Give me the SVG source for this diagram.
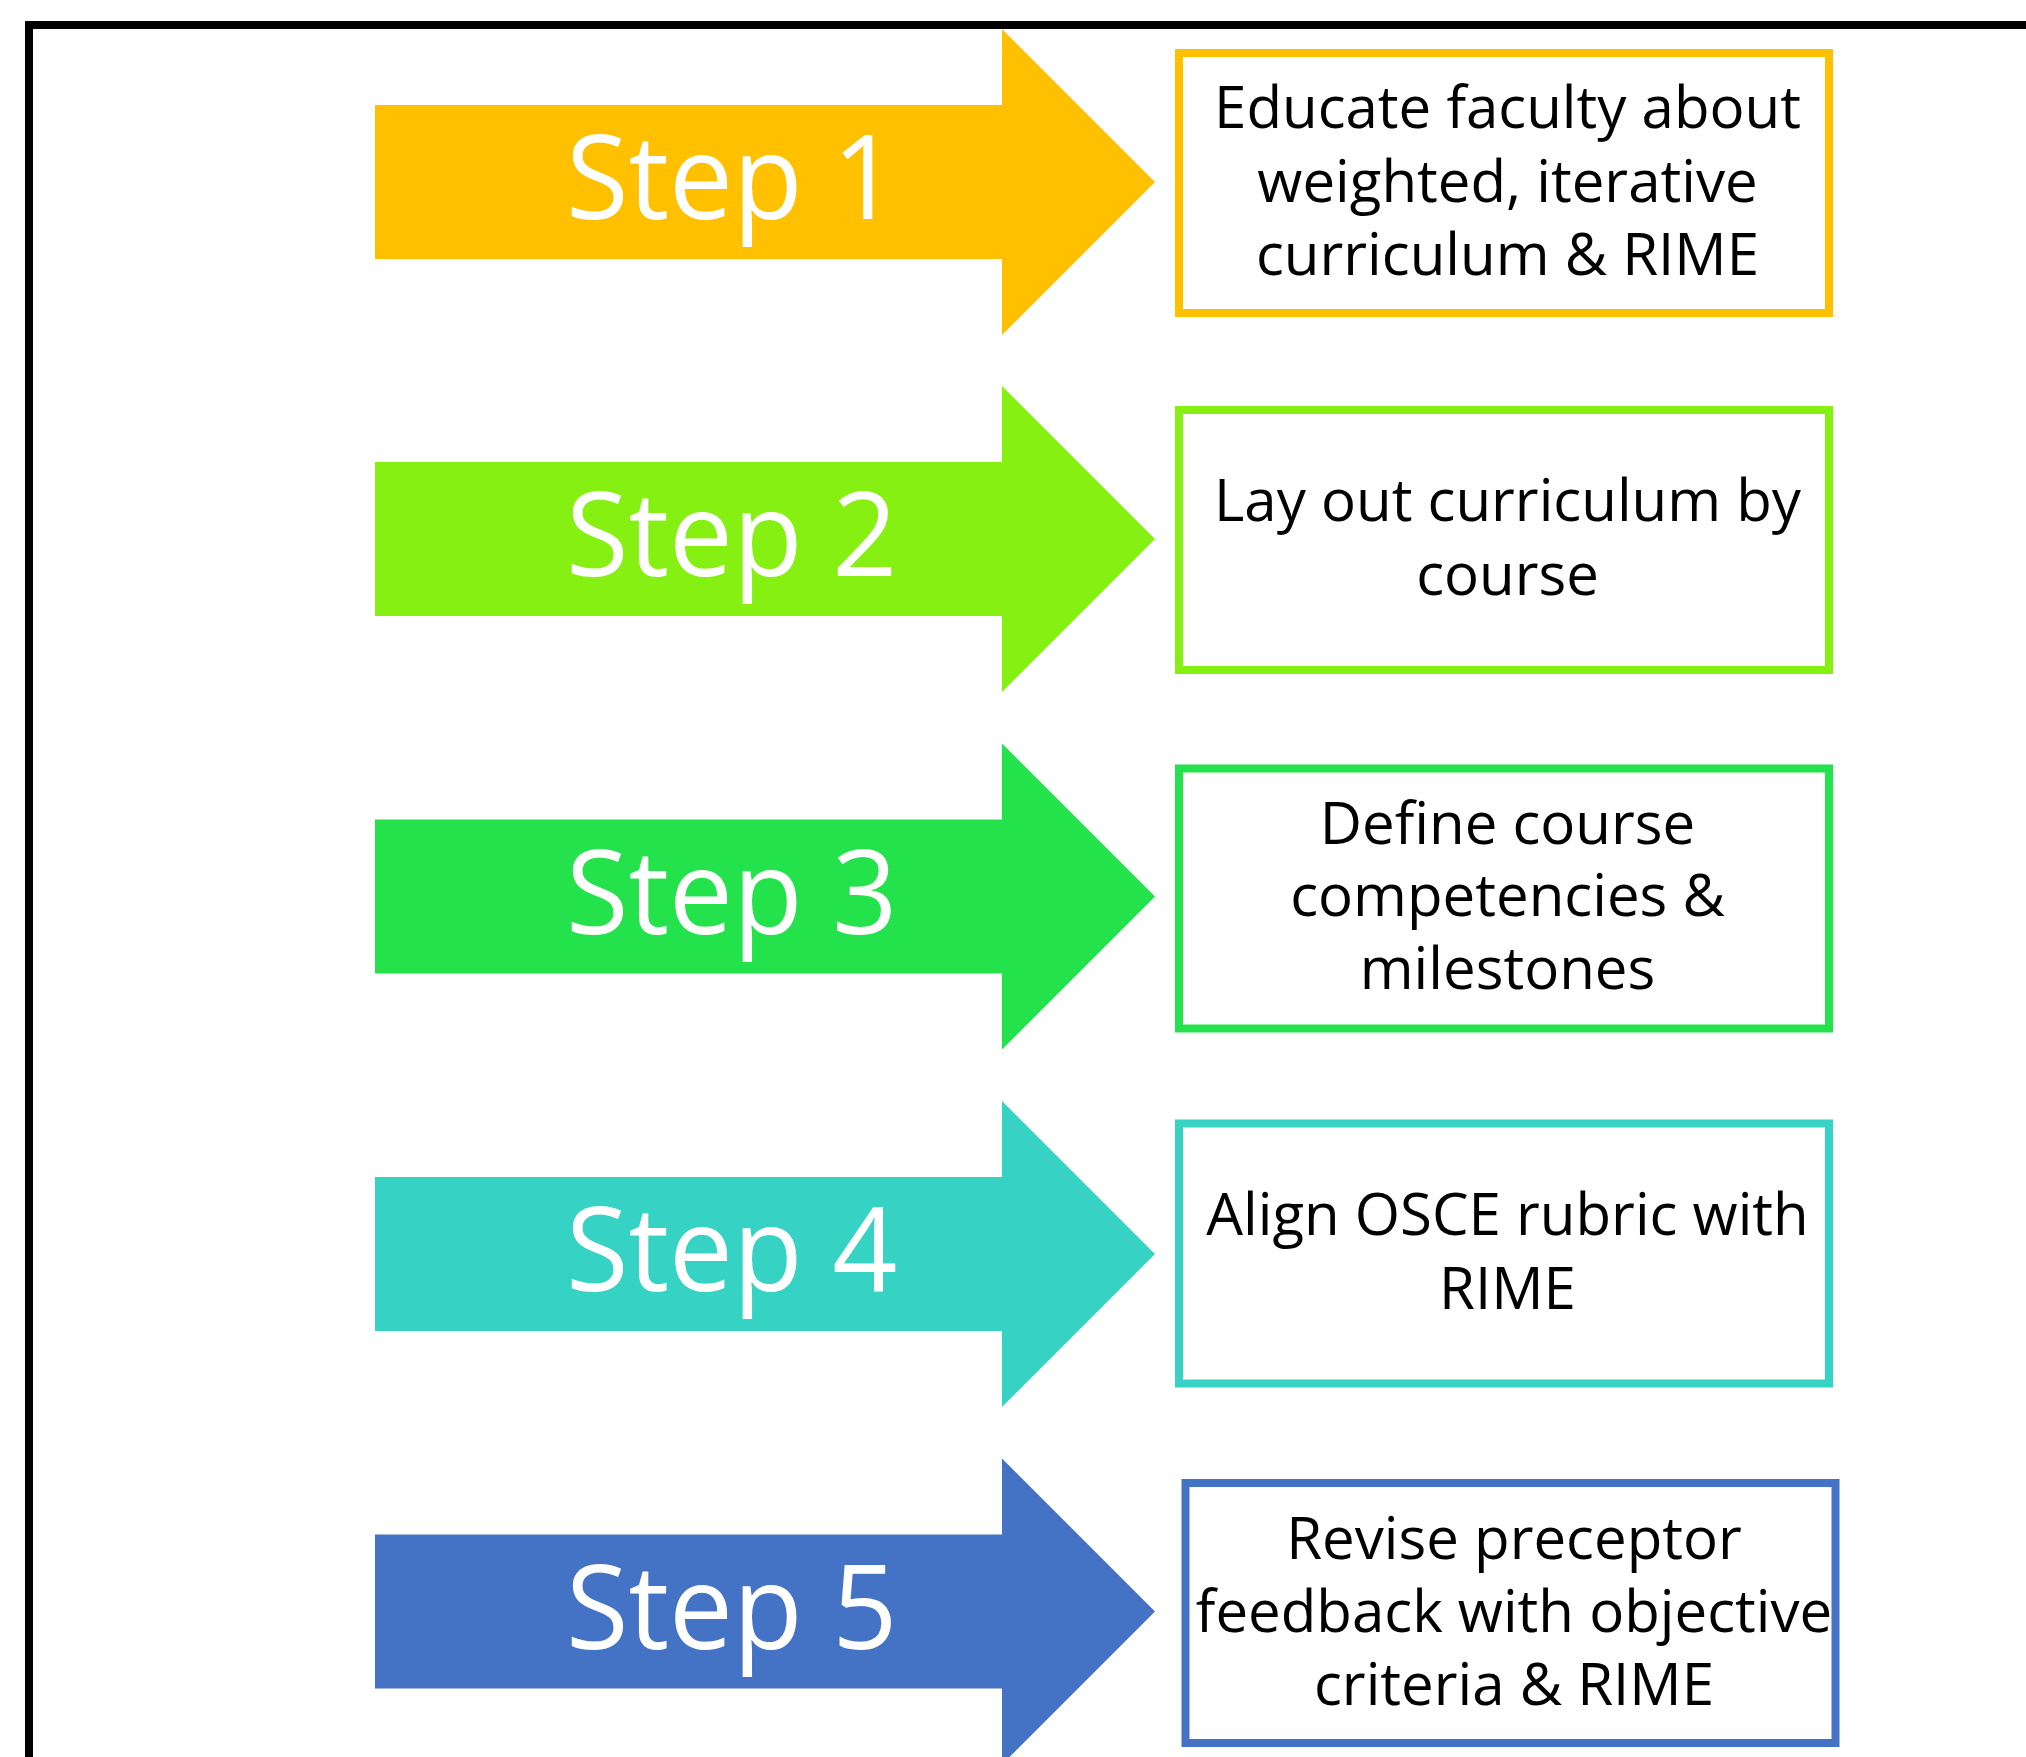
<svg xmlns="http://www.w3.org/2000/svg" width="2026" height="1757" viewBox="0 0 2026 1757">
  <style>
    .frame { fill: none; stroke: #000000; stroke-width: 8; }
    .step-label { font-family: "Open Sans", "Noto Sans", "Liberation Sans", sans-serif; font-size: 118px; fill: #ffffff; }
    .task-box { fill: #ffffff; stroke-width: 8; }
    .task-text { font-family: "Open Sans", "Noto Sans", "Liberation Sans", sans-serif; font-size: 58.2px; fill: #000000; text-anchor: middle; }
    .c1 { fill: #FFC000; } .s1 { stroke: #FFC000; }
    .c2 { fill: #86F012; } .s2 { stroke: #86F012; }
    .c3 { fill: #24E24B; } .s3 { stroke: #24E24B; }
    .c4 { fill: #36D3C5; } .s4 { stroke: #36D3C5; }
    .c5 { fill: #4472C4; } .s5 { stroke: #4472C4; }
  </style>

  <rect x="0" y="0" width="2026" height="1757" fill="#ffffff"/>

  <!-- outer frame; right and bottom edges run past the canvas -->
  <rect class="frame" x="29" y="25" width="2100" height="1800"/>

  <g id="connectors"/>

  <!-- step arrows; labels slightly condensed horizontally -->
  <g id="step1">
    <polygon class="c1" points="375,105 1002,105 1002,29 1155,182 1002,335 1002,259 375,259"/>
    <text class="step-label" transform="translate(566 219) scale(0.965 1)">Step 1</text>
  </g>
  <g id="step2">
    <polygon class="c2" points="375,462 1002,462 1002,386 1155,539 1002,692 1002,616 375,616"/>
    <text class="step-label" transform="translate(566 576) scale(0.965 1)">Step 2</text>
  </g>
  <g id="step3">
    <polygon class="c3" points="375,819.5 1002,819.5 1002,743.5 1155,896.5 1002,1049.5 1002,973.5 375,973.5"/>
    <text class="step-label" transform="translate(566 933.5) scale(0.965 1)">Step 3</text>
  </g>
  <g id="step4">
    <polygon class="c4" points="375,1177 1002,1177 1002,1101 1155,1254 1002,1407 1002,1331 375,1331"/>
    <text class="step-label" transform="translate(566 1291) scale(0.965 1)">Step 4</text>
  </g>
  <g id="step5">
    <polygon class="c5" points="375,1534.5 1002,1534.5 1002,1458.5 1155,1611.5 1002,1764.5 1002,1688.5 375,1688.5"/>
    <text class="step-label" transform="translate(566 1648.5) scale(0.965 1)">Step 5</text>
  </g>

  <!-- task boxes -->
  <g id="task1">
    <rect class="task-box s1" x="1179" y="53" width="650" height="260"/>
    <text class="task-text" x="1507.5" y="128">Educate faculty about</text>
    <text class="task-text" x="1507.5" y="201.5">weighted, iterative</text>
    <text class="task-text" x="1507.5" y="275">curriculum &amp; RIME</text>
  </g>
  <g id="task2">
    <rect class="task-box s2" x="1179" y="410" width="650" height="260"/>
    <text class="task-text" x="1507.5" y="521">Lay out curriculum by</text>
    <text class="task-text" x="1507.5" y="594.5">course</text>
  </g>
  <g id="task3">
    <rect class="task-box s3" x="1179" y="768.5" width="650" height="260"/>
    <text class="task-text" x="1507.5" y="844">Define course</text>
    <text class="task-text" x="1507.5" y="916">competencies &amp;</text>
    <text class="task-text" x="1507.5" y="989">milestones</text>
  </g>
  <g id="task4">
    <rect class="task-box s4" x="1179" y="1123.5" width="650" height="260"/>
    <text class="task-text" x="1507.5" y="1235">Align OSCE rubric with</text>
    <text class="task-text" x="1507.5" y="1308.5">RIME</text>
  </g>
  <g id="task5">
    <rect class="task-box s5" x="1185.5" y="1483" width="650" height="260"/>
    <text class="task-text" x="1514" y="1558.5">Revise preceptor</text>
    <text class="task-text" x="1514" y="1631.5">feedback with objective</text>
    <text class="task-text" x="1514" y="1705">criteria &amp; RIME</text>
  </g>
</svg>
